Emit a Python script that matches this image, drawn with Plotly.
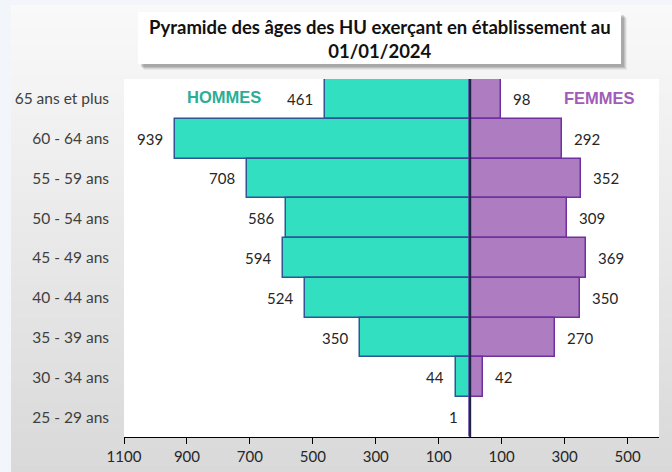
import plotly.graph_objects as go

# ---- data ----
age_groups = ["65 ans et plus", "60 - 64 ans", "55 - 59 ans", "50 - 54 ans", "45 - 49 ans",
              "40 - 44 ans", "35 - 39 ans", "30 - 34 ans", "25 - 29 ans"]
hommes = [461, 939, 708, 586, 594, 524, 350, 44, 1]
femmes = [98, 292, 352, 309, 369, 350, 270, 42, 0]
tick_vals = [-1100, -900, -700, -500, -300, -100, 100, 300, 500]
tick_text = ["1100", "900", "700", "500", "300", "100", "100", "300", "500"]
title_text = "Pyramide des âges des HU exerçant en établissement au<br>01/01/2024"

W, H = 672, 472
L, R, T, B = 124, 13, 79, 35
PW, PH = W - L - R, H - T - B

def px(x):
    return (x - L) / PW

def py(y):
    return (H - B - y) / PH

fig = go.Figure()
fig.add_trace(go.Bar(
    y=age_groups, x=[-v for v in hommes], orientation="h", name="HOMMES",
    marker=dict(color="#33DFC1", line=dict(color="#2F5597", width=1.5)),
    hoverinfo="skip"))
fig.add_trace(go.Bar(
    y=age_groups, x=femmes, orientation="h", name="FEMMES",
    marker=dict(color="#AE7CC0", line=dict(color="#7030A0", width=1.5)),
    hoverinfo="skip"))

shapes = []
# background gradient panel
n = 60
y0p, y1p = 5, H
for i in range(n):
    a = y0p + (y1p - y0p) * i / n
    b = y0p + (y1p - y0p) * (i + 1) / n + 0.5
    t = i / (n - 1)
    c = int(round(249 + (217 - 249) * t))
    shapes.append(dict(type="rect", xref="paper", yref="paper", layer="below",
                       x0=px(11), x1=px(W + 2), y0=py(b), y1=py(a),
                       line=dict(width=0), fillcolor=f"rgb({c},{c},{c})"))
# white plot area
shapes.append(dict(type="rect", xref="paper", yref="paper", layer="below",
                   x0=0, x1=1, y0=0, y1=1, line=dict(width=0), fillcolor="white"))
# title box shadow + box
for off, op in [(6, 0.05), (5, 0.08), (4, 0.1), (3, 0.12)]:
    shapes.append(dict(type="rect", xref="paper", yref="paper", layer="below",
                       x0=px(138 + off), x1=px(621 + off), y0=py(64 + off), y1=py(12 + off),
                       line=dict(width=0), fillcolor=f"rgba(0,0,0,{op})"))
shapes.append(dict(type="rect", xref="paper", yref="paper", layer="below",
                   x0=px(138), x1=px(621), y0=py(64), y1=py(12),
                   line=dict(width=0), fillcolor="white"))
# center line
shapes.append(dict(type="line", xref="x", yref="paper", x0=0, x1=0, y0=0, y1=1,
                   line=dict(color="#1B2440", width=2), layer="above"))

annotations = []
for cat, v in zip(age_groups, hommes):
    annotations.append(dict(x=-v, y=cat, xref="x", yref="y", text=str(v), showarrow=False,
                            xanchor="right", xshift=-10,
                            font=dict(family="Lato, Carlito, sans-serif", size=15, color="#262626")))
for cat, v in zip(age_groups, femmes):
    if v > 0:
        annotations.append(dict(x=v, y=cat, xref="x", yref="y", text=str(v), showarrow=False,
                                xanchor="left", xshift=10,
                                font=dict(family="Lato, Carlito, sans-serif", size=15, color="#262626")))
annotations.append(dict(x=px(224), y=py(97), xref="paper", yref="paper", text="<b>HOMMES</b>",
                        showarrow=False, xanchor="center", yanchor="middle",
                        font=dict(family="Liberation Sans, Arial, sans-serif", size=16.5, color="#2AAE96")))
annotations.append(dict(x=px(599), y=py(98), xref="paper", yref="paper", text="<b>FEMMES</b>",
                        showarrow=False, xanchor="center", yanchor="middle",
                        font=dict(family="Liberation Sans, Arial, sans-serif", size=16.5, color="#A05CB8")))
annotations.append(dict(x=px(379.5), y=py(39), xref="paper", yref="paper", text="<b>" + title_text + "</b>",
                        showarrow=False, xanchor="center", yanchor="middle",
                        font=dict(family="Lato, Carlito, sans-serif", size=18.5, color="#111111")))

fig.update_layout(
    width=W, height=H,
    margin=dict(l=L, r=R, t=T, b=B, pad=0),
    paper_bgcolor="#F2F5FA", plot_bgcolor="white",
    barmode="relative", bargap=0,
    showlegend=False,
    shapes=shapes, annotations=annotations,
    xaxis=dict(range=[-1100, 600], tickvals=tick_vals, ticktext=tick_text, automargin=False,
               showgrid=False, zeroline=False, showline=True, linecolor="black", linewidth=1,
               ticks="outside", ticklen=6, tickcolor="black",
               tickfont=dict(family="Lato, Carlito, sans-serif", size=15, color="#262626")),
    yaxis=dict(categoryorder="array", categoryarray=age_groups[::-1], automargin=False,
               showgrid=False, zeroline=False, showline=False, ticks="",
               ticklabelstandoff=14,
               tickfont=dict(family="Lato, Carlito, sans-serif", size=15.5, color="#404040")),
)

fig.write_html("out.html", config={"displayModeBar": False},
               post_script="document.body.style.margin='0';")
